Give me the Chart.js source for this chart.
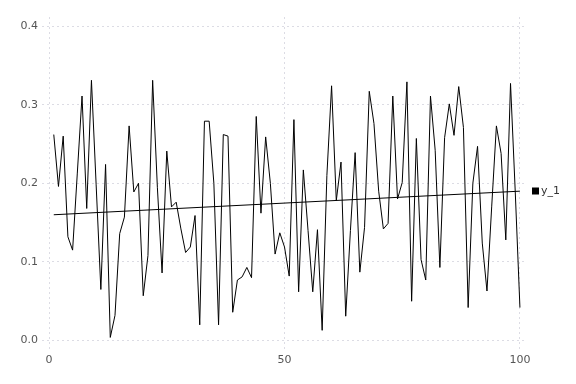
<!DOCTYPE html>
<html>
    <head>
        <meta charset="utf-8">
        <title>y_1</title>
        <script src="https://cdn.jsdelivr.net/npm/chart.js"></script>
        <style>
            html, body { margin: 0; padding: 0; background: #fff; }
            #wrap { width: 576px; height: 384px; }
        </style>
    </head>
    <body>
        <div id="wrap"><canvas id="lineChart" width="576" height="384"></canvas></div>
        <script>
            // series
            const xs = Array.from({ length: 100 }, (_, i) => i + 1);
            const y1 = [
                0.262, 0.196, 0.260, 0.132, 0.115, 0.213, 0.311, 0.168, 0.331, 0.198,
                0.065, 0.224, 0.004, 0.032, 0.136, 0.157, 0.273, 0.189, 0.200, 0.057,
                0.108, 0.331, 0.195, 0.086, 0.241, 0.170, 0.176, 0.142, 0.112, 0.119,
                0.159, 0.020, 0.279, 0.279, 0.200, 0.020, 0.262, 0.260, 0.036, 0.077,
                0.081, 0.093, 0.080, 0.285, 0.162, 0.259, 0.200, 0.110, 0.137, 0.119,
                0.082, 0.281, 0.062, 0.217, 0.140, 0.062, 0.141, 0.013, 0.210, 0.324,
                0.178, 0.227, 0.031, 0.140, 0.239, 0.087, 0.144, 0.317, 0.276, 0.190,
                0.142, 0.149, 0.311, 0.180, 0.201, 0.329, 0.050, 0.257, 0.103, 0.077,
                0.311, 0.242, 0.093, 0.258, 0.301, 0.261, 0.323, 0.271, 0.042, 0.200,
                0.247, 0.124, 0.063, 0.170, 0.273, 0.238, 0.128, 0.327, 0.190, 0.042
            ];
            // trend line end points
            const trendX = [1, 100];
            const trendY = [0.160, 0.190];
            const xTicks = [0, 50, 100];
            const yTicks = [0.0, 0.1, 0.2, 0.3, 0.4];
            const seriesName = 'y_1';

            const gridColor = '#dcdce4';
            const tickColor = '#555555';

            // legend drawn to the right of the plot
            const sideLegend = {
                id: 'sideLegend',
                afterDraw(chart) {
                    const c = chart.ctx;
                    const area = chart.chartArea;
                    const cy = (area.top + area.bottom) / 2 + 8;
                    c.save();
                    c.fillStyle = '#000';
                    c.fillRect(area.right + 5, cy - 4, 7, 7);
                    c.fillStyle = '#333';
                    c.font = '11px "DejaVu Sans"';
                    c.textBaseline = 'middle';
                    c.fillText(seriesName, area.right + 14, cy);
                    c.restore();
                }
            };

            const ctx = document.getElementById('lineChart').getContext('2d');
            new Chart(ctx, {
                type: 'line',
                data: {
                    datasets: [{
                        label: seriesName,
                        data: xs.map((x, i) => ({ x: x, y: y1[i] })),
                        borderColor: '#000',
                        borderWidth: 1,
                        pointRadius: 0,
                        tension: 0
                    }, {
                        label: 'trend',
                        data: trendX.map((x, i) => ({ x: x, y: trendY[i] })),
                        borderColor: '#000',
                        borderWidth: 1,
                        pointRadius: 0
                    }]
                },
                options: {
                    responsive: false,
                    animation: false,
                    layout: { padding: { top: 17, right: 49, left: 0, bottom: 0 } },
                    plugins: {
                        legend: { display: false },
                        tooltip: { enabled: false }
                    },
                    scales: {
                        x: {
                            type: 'linear',
                            min: -1.5,
                            max: 101.5,
                            afterFit: (s) => { s.height = 34; },
                            afterBuildTicks: (s) => { s.ticks = xTicks.map(v => ({ value: v })); },
                            border: { display: false, dash: [2, 3] },
                            grid: { color: gridColor, drawTicks: false },
                            ticks: {
                                color: tickColor,
                                padding: 4,
                                maxRotation: 0,
                                font: { family: 'DejaVu Sans', size: 11 },
                                callback: (v) => String(v)
                            }
                        },
                        y: {
                            min: -0.012,
                            max: 0.4115,
                            afterFit: (s) => { s.width = 42; },
                            afterBuildTicks: (s) => { s.ticks = yTicks.map(v => ({ value: v })); },
                            border: { display: false, dash: [2, 3] },
                            grid: { color: gridColor, drawTicks: false },
                            ticks: {
                                color: tickColor,
                                padding: 4,
                                font: { family: 'DejaVu Sans', size: 11 },
                                callback: (v) => v.toFixed(1)
                            }
                        }
                    }
                },
                plugins: [sideLegend]
            });
        </script>
    </body>
</html>
